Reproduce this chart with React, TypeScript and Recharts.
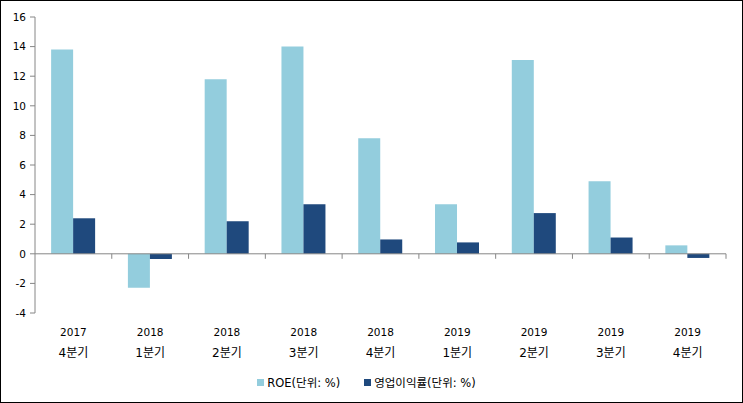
import { BarChart, Bar, XAxis, YAxis, ReferenceLine, Legend } from "recharts";

// 분기 라벨 (연도 / 분기)
const years = ["2017", "2018", "2018", "2018", "2018", "2019", "2019", "2019", "2019"];
const quarters = ["4분기", "1분기", "2분기", "3분기", "4분기", "1분기", "2분기", "3분기", "4분기"];

// 시리즈 값 (단위: %)
const roe = [13.8, -2.3, 11.8, 14.0, 7.8, 3.35, 13.1, 4.9, 0.57];
const opMargin = [2.4, -0.35, 2.2, 3.35, 0.97, 0.77, 2.75, 1.1, -0.28];

const yTicks = [-4, -2, 0, 2, 4, 6, 8, 10, 12, 14, 16];

const series = [
  { key: "roe", name: "ROE(단위: %)", color: "#93CDDD" },
  { key: "op", name: "영업이익률(단위: %)", color: "#1F497D" },
];

const data = years.map((y, i) => ({
  label: `${y}|${quarters[i]}`,
  roe: roe[i],
  op: opMargin[i],
}));

const FONT = "'DejaVu Sans', 'Noto Sans CJK KR', sans-serif";
const AXIS_GRAY = "#868686";

const CategoryTick = (props: any) => {
  const { x, y, payload } = props;
  const [yr, q] = String(payload.value).split("|");
  return (
    <g>
      <text x={x} y={y + 15} textAnchor="middle" fontSize={10.5} fill="#000" fontFamily={FONT}>
        {yr}
      </text>
      <text x={x} y={y + 36} textAnchor="middle" fontSize={12} fill="#000" fontFamily={FONT}>
        {q}
      </text>
    </g>
  );
};

// 0 기준선 + 항목 경계 눈금
const ZeroLine = (props: any) => {
  const { x1, x2, y1 } = props;
  const n = data.length;
  const step = (x2 - x1) / n;
  const marks = [];
  for (let i = 1; i <= n; i++) {
    const xx = x1 + step * i;
    marks.push(<line key={i} x1={xx} x2={xx} y1={y1} y2={y1 + 5} stroke={AXIS_GRAY} strokeWidth={1} />);
  }
  return (
    <g>
      <line x1={x1} x2={x2} y1={y1} y2={y1} stroke={AXIS_GRAY} strokeWidth={1} />
      {marks}
    </g>
  );
};

const LegendContent = () => (
  <div
    style={{
      display: "flex",
      justifyContent: "center",
      gap: 24,
      fontFamily: FONT,
      fontSize: 11.5,
      color: "#000",
      paddingLeft: 6,
      paddingTop: 2,
    }}
  >
    {series.map((s) => (
      <div key={s.key} style={{ display: "flex", alignItems: "center" }}>
        <span style={{ width: 7, height: 7, background: s.color, marginRight: 3, display: "inline-block" }} />
        <span>{s.name}</span>
      </div>
    ))}
  </div>
);

export default function App() {
  return (
    <div
      style={{
        position: "fixed",
        left: 0,
        top: 0,
        width: 743,
        height: 403,
        border: "1px solid #000",
        boxSizing: "border-box",
        background: "#fff",
      }}
    >
      <BarChart
        width={741}
        height={401}
        data={data}
        margin={{ top: 16, right: 16, left: 0, bottom: 0 }}
        barGap={0}
        barCategoryGap="21%"
      >
        <XAxis
          dataKey="label"
          axisLine={false}
          tickLine={false}
          height={59}
          interval={0}
          tick={<CategoryTick />}
        />
        <YAxis
          type="number"
          domain={[-4, 16]}
          ticks={yTicks}
          width={34}
          axisLine={{ stroke: AXIS_GRAY }}
          tickLine={{ stroke: AXIS_GRAY }}
          tickSize={5}
          tickMargin={4}
          tick={{ fontSize: 10.5, fill: "#000", fontFamily: FONT }}
        />
        <Legend verticalAlign="bottom" height={30} content={<LegendContent />} />
        {series.map((s) => (
          <Bar key={s.key} dataKey={s.key} name={s.name} fill={s.color} isAnimationActive={false} />
        ))}
        <ReferenceLine y={0} shape={<ZeroLine />} />
      </BarChart>
    </div>
  );
}
